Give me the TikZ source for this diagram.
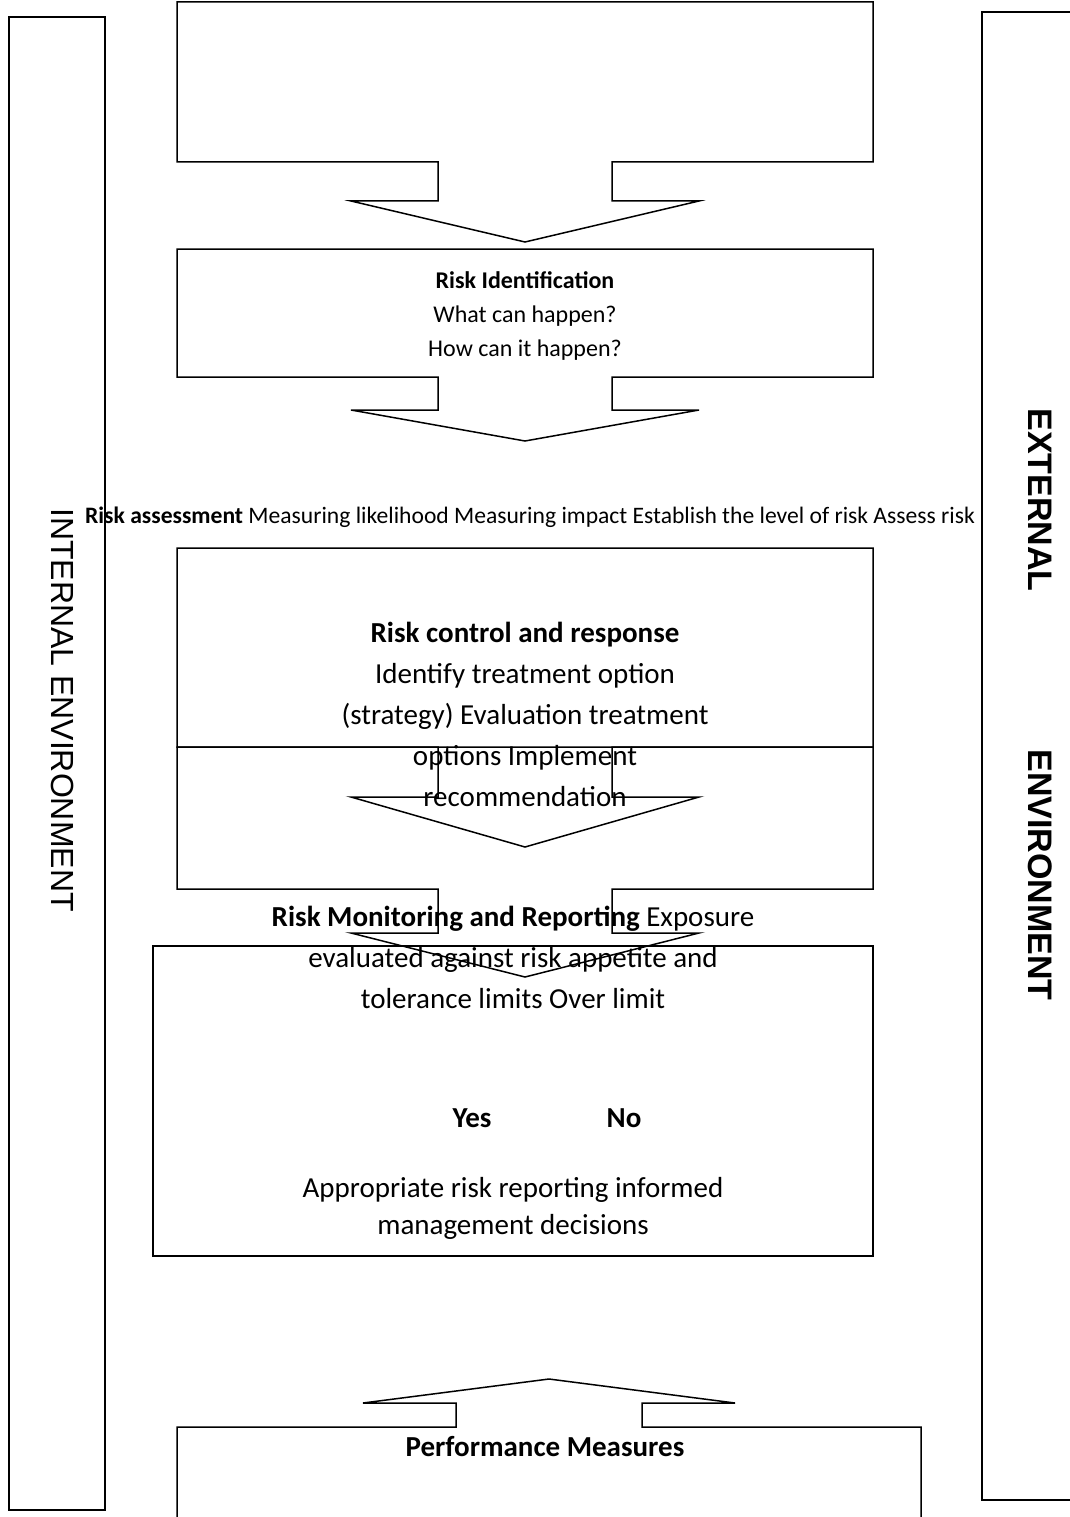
\documentclass[tikz,border=0pt]{standalone}
\usepackage{fontspec}
\setmainfont{Carlito}
\newfontfamily\envfont{Liberation Sans}

\tikzset{
  frame/.style   = {draw=black, line width=1.5pt},
  envbox/.style  = {draw=black, line width=2pt},
  bigtext/.style = {font=\fontsize{29}{41}\selectfont, align=center, inner sep=0pt},
  smalltext/.style = {font=\fontsize{24}{34}\selectfont, align=center, inner sep=0pt},
  envtext/.style = {font=\envfont\fontsize{32}{36}\selectfont, rotate=-90, inner sep=0pt},
  envbold/.style = {envtext, font=\envfont\bfseries\fontsize{34}{36}\selectfont},
}

\begin{document}
\begin{tikzpicture}[x=1pt, y=-1pt]
\useasboundingbox (0,0) rectangle (1070,1517);

% environment boxes

\draw[envbox] (9,17) rectangle (105,1510);
\draw[envbox] (982,12) rectangle (1080,1500);
\node[envtext] (internal) at (63,710) {INTERNAL ENVIRONMENT};
\node[envbold] (external) at (1040,500) {EXTERNAL};
\node[envbold] (environment) at (1040,875) {ENVIRONMENT};

% box 1

\draw[frame] (177,2) -- (873,2) -- (873,162) -- (612,162) -- (612,201) -- (699,201)
  -- (525,242) -- (351,201) -- (438,201) -- (438,162) -- (177,162) -- cycle;

% box 2

\draw[frame] (177,249) -- (873,249) -- (873,377) -- (612,377) -- (612,410) -- (699,410)
  -- (525,441) -- (351,410) -- (438,410) -- (438,377) -- (177,377) -- cycle;
\node[smalltext] (riskid) at (525,316) {\textbf{Risk Identification}\\What can happen?\\How can it happen?};

% assessment line

\node[smalltext, font=\fontsize{23.6}{30}\selectfont] (assess) at (530,517) {\textbf{Risk assessment} Measuring likelihood Measuring impact Establish the level of risk Assess risk};

% box 3 and box 4

\draw[frame] (177,548) -- (873,548) -- (873,747) -- (612,747) -- (612,797) -- (699,797)
  -- (525,847) -- (351,797) -- (438,797) -- (438,747) -- (177,747) -- cycle;
\draw[frame] (177,747) -- (873,747) -- (873,889) -- (612,889) -- (612,933) -- (699,933)
  -- (525,977) -- (351,933) -- (438,933) -- (438,889) -- (177,889) -- cycle;
\node[bigtext] (control) at (525,714) {\textbf{Risk control and response}\\Identify treatment option\\(strategy) Evaluation treatment\\options Implement\\recommendation};

% box 5

\draw[frame] (153,946) rectangle (873,1256);
\node[bigtext] (monitor) at (513,957) {\textbf{Risk Monitoring and Reporting} Exposure\\evaluated against risk appetite and\\tolerance limits Over limit};
\node[bigtext, font=\bfseries\fontsize{29}{41}\selectfont] (yes) at (472,1118) {Yes};
\node[bigtext, font=\bfseries\fontsize{29}{41}\selectfont] (no) at (624,1118) {No};
\node[bigtext, font=\fontsize{29}{37}\selectfont] (report) at (513,1208) {Appropriate risk reporting informed\\management decisions};

% box 6

\draw[frame] (177,1540) -- (177,1427) -- (456,1427) -- (456,1403) -- (363,1403) -- (549,1379)
  -- (735,1403) -- (642,1403) -- (642,1427) -- (921,1427) -- (921,1540);
\node[bigtext] (perf) at (545,1447) {\textbf{Performance Measures}};

\end{tikzpicture}
\end{document}
